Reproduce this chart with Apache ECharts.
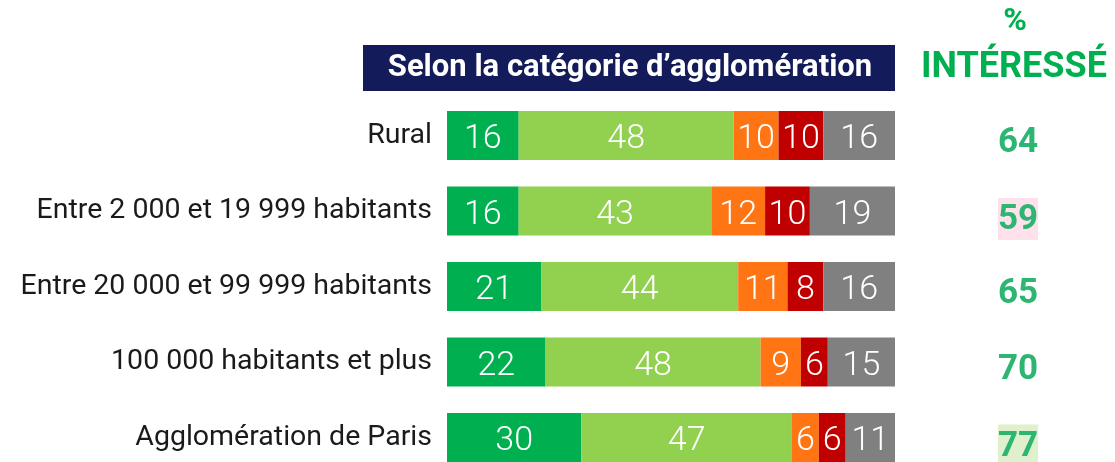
<!DOCTYPE html>
<html>
<head>
<meta charset="utf-8">
<script src="https://cdn.jsdelivr.net/npm/echarts@6/dist/echarts.min.js"></script>
<style>
  html, body { margin: 0; padding: 0; background: #fff; }
  #main { width: 1115px; height: 462px; }
</style>
</head>
<body>
<div id="main"></div>
<script>
// catégories d'agglomération
var categories = ['Rural', 'Entre 2 000 et 19 999 habitants', 'Entre 20 000 et 99 999 habitants', '100 000 habitants et plus', 'Agglomération de Paris'];
var tresInteresse = [16, 16, 21, 22, 30];
var plutotInteresse = [48, 43, 44, 48, 47];
var plutotPas = [10, 12, 11, 9, 6];
var pasDuTout = [10, 10, 8, 6, 6];
var nsp = [16, 19, 16, 15, 11];
var interesse = [64, 59, 65, 70, 77];
// surlignage de la colonne % intéressé
var highlight = ['', 'low', '', '', 'high'];

var colors = ['#00B050', '#92D050', '#FF7514', '#C00000', '#808080'];
var seriesData = [tresInteresse, plutotInteresse, plutotPas, pasDuTout, nsp];

var myChart = echarts.init(document.getElementById('main'));

var series = seriesData.map(function (d, i) {
  return {
    type: 'bar',
    stack: 'total',
    data: d,
    barWidth: 49,
    itemStyle: { color: colors[i] },
    label: {
      show: true,
      position: 'inside',
      offset: [0, 4],
      color: '#fff',
      fontSize: 34,
      fontFamily: 'Roboto',
      fontWeight: 300
    }
  };
});

var valStyle = { fontSize: 35, fontWeight: 'bold', color: '#2DB572', fontFamily: 'Roboto' };

myChart.setOption({
  animation: false,
  grid: [
    { left: 447, top: 97.75, width: 448, height: 377.5, outerBoundsMode: 'none' },
    // colonne % intéressé, un peu plus bas que les barres
    { left: 447, top: 105.75, width: 448, height: 377.5, outerBoundsMode: 'none' }
  ],
  xAxis: [
    { type: 'value', min: 0, max: 100, show: false },
    { type: 'value', min: 0, max: 100, show: false, gridIndex: 1 }
  ],
  yAxis: [{
    type: 'category',
    data: categories,
    inverse: true,
    axisLine: { show: false },
    axisTick: { show: false },
    axisLabel: { margin: 15, fontSize: 28.5, color: '#1a1a1a', fontFamily: 'Roboto', padding: [8, 0, 0, 0] }
  }, {
    type: 'category',
    gridIndex: 1,
    position: 'right',
    data: interesse,
    inverse: true,
    axisLine: { show: false },
    axisTick: { show: false },
    axisLabel: {
      margin: 123,
      align: 'center',
      formatter: function (v, idx) {
        var h = highlight[idx];
        return h ? '{' + h + '|' + v + '}' : '{n|' + v + '}';
      },
      rich: {
        n: Object.assign({}, valStyle),
        low: Object.assign({ backgroundColor: '#FFE1EC', padding: [5, 0, 2, 0] }, valStyle),
        high: Object.assign({ backgroundColor: '#E0F0CC', padding: [5, 0, 2, 0] }, valStyle)
      }
    }
  }],
  graphic: [
    { type: 'rect', shape: { x: 363, y: 45, width: 532, height: 46 }, style: { fill: '#131B5A' } },
    { type: 'text', x: 630, y: 68, style: { text: 'Selon la catégorie d’agglomération', fill: '#fff', font: 'bold 31px Roboto', align: 'center', verticalAlign: 'middle' } },
    { type: 'text', x: 1015, y: 22, style: { text: '%', fill: '#00B050', font: 'bold 32px Roboto', align: 'center', verticalAlign: 'middle' } },
    { type: 'text', x: 1014, y: 68, style: { text: 'INTÉRESSÉ', fill: '#00B050', font: 'bold 36px Roboto', align: 'center', verticalAlign: 'middle' } }
  ],
  series: series
});
</script>
</body>
</html>
